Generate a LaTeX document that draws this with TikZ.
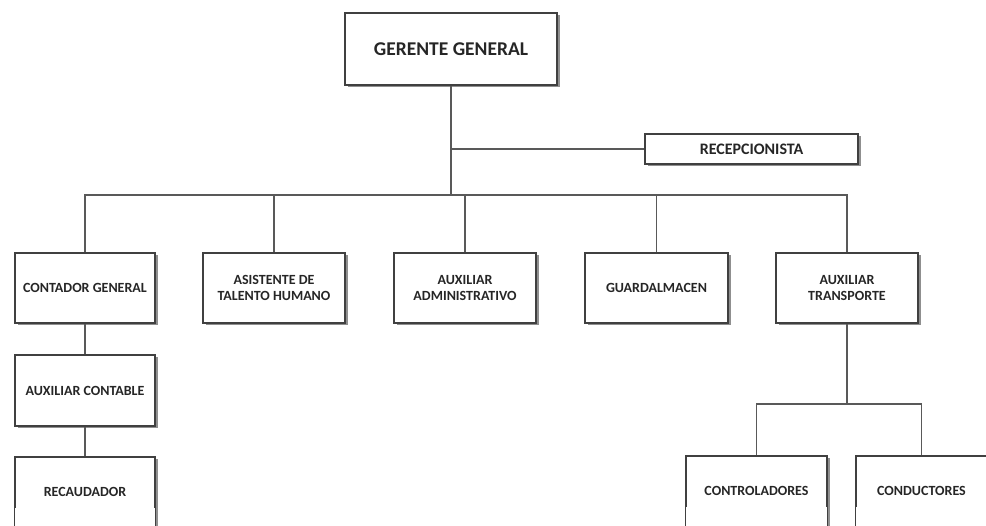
\documentclass[tikz,border=0pt]{standalone}
\usepackage{fontspec}
\setmainfont{Carlito}
\usetikzlibrary{shadows}
\tikzset{
  box/.style={draw=black!75, line width=1.3pt, fill=white, align=center, inner sep=0pt,
    font=\bfseries\fontsize{14}{16.5}\selectfont, text=black!85,
    drop shadow={shadow xshift=2.5pt, shadow yshift=-2.5pt, fill=black!55, opacity=0.8}},
  conn/.style={draw=black!65, line width=1.1pt}
}
\begin{document}
\begin{tikzpicture}[x=1pt,y=-1pt]
\useasboundingbox (0,0) rectangle (986,526);
\clip (0,0) rectangle (986,526);
\fill[white] (0,0) rectangle (986,526);
% nodes
\node[box, minimum width=212pt, minimum height=72pt, font=\bfseries\fontsize{19.5}{23}\selectfont] (gg) at (451,49) {GERENTE GENERAL};
\node[box, minimum width=213pt, minimum height=30pt, font=\bfseries\fontsize{16}{19}\selectfont] (rec) at (751.5,149) {RECEPCIONISTA};
\node[box, minimum width=140pt, minimum height=70pt] (cont) at (85,288) {CONTADOR GENERAL};
\node[box, minimum width=142pt, minimum height=70pt] (asis) at (274,288) {ASISTENTE DE\\TALENTO HUMANO};
\node[box, minimum width=142pt, minimum height=70pt] (adm) at (465,288) {AUXILIAR\\ADMINISTRATIVO};
\node[box, minimum width=143pt, minimum height=70pt] (guar) at (656.5,288) {GUARDALMACEN};
\node[box, minimum width=142pt, minimum height=70pt] (tran) at (847,288) {AUXILIAR\\TRANSPORTE};
\node[box, minimum width=140pt, minimum height=71pt] (auxc) at (85,390.5) {AUXILIAR CONTABLE};
\node[box, minimum width=140pt, minimum height=70pt] (reca) at (85,492) {RECAUDADOR};
\node[box, minimum width=141pt, minimum height=70pt] (ctrl) at (756.5,491) {CONTROLADORES};
\node[box, minimum width=131pt, minimum height=70pt] (cond) at (921.5,491) {CONDUCTORES};
% extend cut-off boxes past the bottom edge
\draw[draw=black!75, line width=1.3pt] (reca.south west) -- ++(0,20) (reca.south east) -- ++(0,20);
\fill[white] ([xshift=0.65pt]reca.south west) rectangle ([xshift=-0.65pt,yshift=20pt]reca.south east);
\draw[draw=black!75, line width=1.3pt] (ctrl.south west) -- ++(0,20) (ctrl.south east) -- ++(0,20);
\fill[white] ([xshift=0.65pt]ctrl.south west) rectangle ([xshift=-0.65pt,yshift=20pt]ctrl.south east);
\draw[draw=black!75, line width=1.3pt] (cond.south west) -- ++(0,20);
\fill[white] ([xshift=0.65pt]cond.south west) rectangle ([xshift=-0.65pt,yshift=20pt]cond.south east);
% coordinates
\coordinate (h) at (451,195);
\coordinate (t2) at (847,404);
% connectors
\draw[conn] (gg.south) -- (h);
\draw[conn] (gg.south |- rec.west) -- (rec.west);
\draw[conn] (cont.north) |- (h);
\draw[conn] (tran.north) |- (h);
\draw[conn] (asis.north) -- (asis.north |- h);
\draw[conn] (adm.north) -- (adm.north |- h);
\draw[conn] (guar.north) -- (guar.north |- h);
\draw[conn] (cont.south) -- (auxc.north);
\draw[conn] (auxc.south) -- (reca.north);
\draw[conn] (tran.south) -- (t2);
\draw[conn] (ctrl.north) |- (t2);
\draw[conn] (cond.north) |- (t2);
\end{tikzpicture}
\end{document}
